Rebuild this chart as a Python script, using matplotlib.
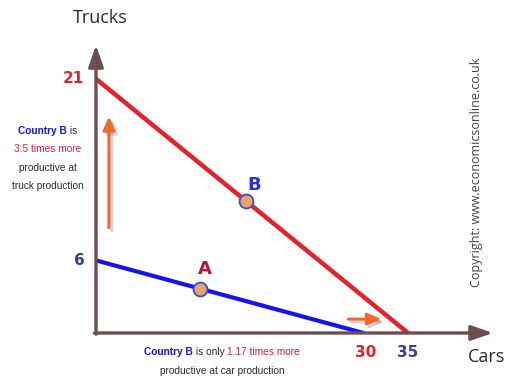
import matplotlib
matplotlib.use("Agg")
import matplotlib.pyplot as plt
import matplotlib.patheffects as pe

# data
country_b_cars, country_b_trucks = 35, 21   # red PPF
country_a_cars, country_a_trucks = 30, 6    # blue PPF
point_b = (16.8, 10.9)
point_a = (11.7, 3.66)
x_ticks = [30, 35]
y_ticks = [6, 21]

RED = "#e8202a"
BLUE = "#1414f0"
NAVY = "#3b3b9b"
AXIS = "#6b4f50"
ORANGE = "#f26a2a"
DARK = "#2a2a2a"

fig = plt.figure(figsize=(5.06, 3.81), dpi=100)
ax = fig.add_axes([96 / 506, 48 / 381, 397 / 506, 288 / 381])
ax.set_xlim(0, 397 / 8.914)
ax.set_ylim(0, 288 / 12.1)
ax.axis("off")

# PPF lines
ax.plot([0, country_b_cars], [country_b_trucks, 0], color=RED, lw=3.2, solid_capstyle="round", zorder=3)
ax.plot([0, country_a_cars], [country_a_trucks, 0], color=BLUE, lw=3.0, solid_capstyle="round", zorder=3)

# points
for (px, py) in (point_a, point_b):
    ax.plot(px, py, "o", ms=10, mfc="#e8a564", mec="#3a4ad8", mew=1.3, zorder=5)
ax.text(point_b[0] + 1.0, point_b[1] + 0.9, "B", color="#2233dd", fontsize=13, fontweight="bold", ha="center")
ax.text(point_a[0] + 0.5, point_a[1] + 1.2, "A", color="#b5123c", fontsize=13, fontweight="bold", ha="center")

# axes with arrowheads
ax.annotate("", xy=(1.0, 0), xytext=(-0.004, 0), xycoords="axes fraction",
            arrowprops=dict(arrowstyle="-|>,head_length=1.3,head_width=0.45", color=AXIS, lw=2.4, shrinkA=0, shrinkB=0))
ax.annotate("", xy=(0, 1.0), xytext=(0, -0.004), xycoords="axes fraction",
            arrowprops=dict(arrowstyle="-|>,head_length=1.3,head_width=0.45", color=AXIS, lw=2.4, shrinkA=0, shrinkB=0))

# tick labels
ax.text(-1.3, y_ticks[1], str(y_ticks[1]), color=RED, fontsize=11, fontweight="bold", ha="right", va="center")
ax.text(-1.3, y_ticks[0], str(y_ticks[0]), color=NAVY, fontsize=11, fontweight="bold", ha="right", va="center")
ax.text(x_ticks[0] + 0.2, -1.6, str(x_ticks[0]), color=RED, fontsize=11, fontweight="bold", ha="center", va="center")
ax.text(x_ticks[1], -1.6, str(x_ticks[1]), color=NAVY, fontsize=11, fontweight="bold", ha="center", va="center")

fig.text(100 / 506, 1 - 18 / 381, "Trucks", fontsize=13, color=DARK, ha="center", va="center", family="Open Sans")
fig.text(505 / 506, 1 - 357 / 381, "Cars", fontsize=13, color=DARK, ha="right", va="center", family="Open Sans")

# orange arrows with soft shadow
shadow = [pe.SimpleLineShadow(offset=(2, -2), shadow_color="gray", alpha=0.35), pe.Normal()]
ax.annotate("", xy=(1.45, 17.9), xytext=(1.45, 8.7),
            arrowprops=dict(arrowstyle="-|>,head_length=0.8,head_width=0.35", color=ORANGE, lw=2.2,
                            shrinkA=0, shrinkB=0, path_effects=shadow))
ax.annotate("", xy=(32.0, 1.15), xytext=(28.3, 1.15),
            arrowprops=dict(arrowstyle="-|>,head_length=0.8,head_width=0.35", color=ORANGE, lw=2.2,
                            shrinkA=0, shrinkB=0, path_effects=shadow))

# copyright
fig.text(477 / 506, 1 - 172 / 381, "Copyright: www.economicsonline.co.uk", rotation=90,
         fontsize=9, color="#444444", ha="center", va="center", family="Open Sans")

fig.canvas.draw()
renderer = fig.canvas.get_renderer()


def rich_line(cx, cy, parts, size=7.3):
    """draw coloured pieces centred on (cx, cy) in pixels"""
    texts = []
    for s, c, w in parts:
        t = fig.text(0, 0, s, fontsize=size, color=c, fontweight=w, va="center", family="Liberation Sans")
        texts.append(t)
    widths = [t.get_window_extent(renderer).width for t in texts]
    x = cx - sum(widths) / 2
    for t, w in zip(texts, widths):
        t.set_position((x / 506, 1 - cy / 381))
        x += w


rich_line(48, 131, [("Country B", BLUE, "bold"), (" is", DARK, "normal")])
rich_line(48, 149, [("3.5 times more", RED, "normal")])
rich_line(48, 168, [("productive at", DARK, "normal")])
rich_line(48, 186, [("truck production", DARK, "normal")])

rich_line(222, 352, [("Country B", BLUE, "bold"), (" is only ", DARK, "normal"), ("1.17 times more", RED, "normal")])
rich_line(222, 371, [("productive at car production", DARK, "normal")])

fig.savefig("out.png", dpi=100)
